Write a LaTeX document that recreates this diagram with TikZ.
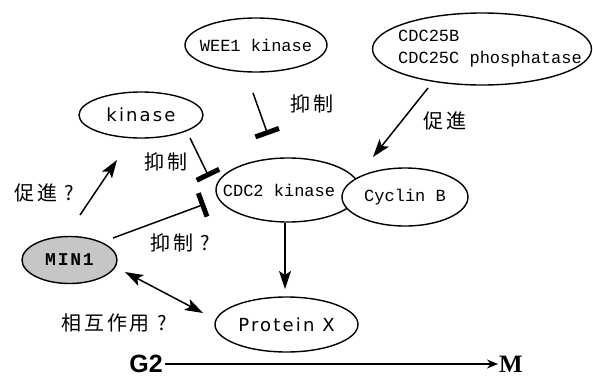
\documentclass[tikz,border=0pt]{standalone}
\usepackage{fontspec}
\setmainfont{DejaVu Sans}
\newfontfamily\monof{Liberation Mono}
\newfontfamily\monobf[LetterSpace=10]{Liberation Mono Bold}
\newfontfamily\cjkf[LetterSpace=14]{Noto Sans CJK JP}
\newfontfamily\sansf[LetterSpace=12]{DejaVu Sans}
\newfontfamily\gfont{Liberation Sans}
\newfontfamily\mfont{Liberation Serif}
\usetikzlibrary{shapes.geometric,arrows.meta}
\begin{document}
\begin{tikzpicture}[x=1pt,y=-1pt,
  ell/.style={ellipse, draw, line width=1.4pt, inner sep=-30pt, fill=white},
  mono/.style={font=\monof\fontsize{17}{22}\selectfont},
  monob/.style={font=\monobf\fontsize{18}{22}\selectfont},
  sans/.style={font=\sansf\fontsize{18}{22}\selectfont},
  cjk/.style={font=\cjkf\fontsize{20}{24}\selectfont, inner sep=0pt},
  con/.style={line width=1.5pt},
  pro/.style={con, -{Stealth[length=18pt,width=12pt,inset=4pt]}},
  biarr/.style={con, {Stealth[length=18pt,width=12pt,inset=4pt]}-{Stealth[length=18pt,width=12pt,inset=4pt]}},
  inh/.style={con, -{Bar[width=25pt,line width=5pt]}}]
\useasboundingbox (0,0) rectangle (593,378);

% nodes
\node[ell, minimum width=142pt, minimum height=54pt, mono] (wee) at (256,45) {WEE1 kinase};
\node[ell, minimum width=219pt, minimum height=72pt] (c25) at (482,49) {};
\node[mono, align=left, inner sep=0pt] (c25t) at (490,49) {CDC25B\\CDC25C phosphatase};
\node[ell, minimum width=124pt, minimum height=46pt, sans] (kin) at (141,115) {kinase};
\node[ell, minimum width=144pt, minimum height=64pt] (cdc2) at (288,190) {};
\node[mono, inner sep=0pt] (cdc2t) at (279,190) {CDC2 kinase};
\node[ell, minimum width=126pt, minimum height=58pt, mono] (cyc) at (405,197) {Cyclin B};
\node[ell, fill=gray!45, minimum width=95pt, minimum height=47pt, monob] (min) at (69.5,260) {MIN1};
\node[ell, minimum width=143pt, minimum height=55pt, sans] (prot) at (286.5,324.5) {Protein X};

% labels
\node[cjk] (l1) at (312,104) {抑制};
\node[cjk] (l2) at (166,162) {抑制};
\node[cjk] (l3) at (445,121) {促進};
\node[cjk] (l4) at (44,193) {促進 ?};
\node[cjk] (l5) at (180,243) {抑制 ?};
\node[cjk] (l6) at (114,323) {相互作用 ?};

% connector end points
\coordinate (w1) at (253,93);   \coordinate (w2) at (268,135);
\coordinate (k1) at (190,138);  \coordinate (k2) at (209,177);
\coordinate (m1) at (113,238);  \coordinate (m2) at (205,204);
\coordinate (p1) at (80,215);   \coordinate (p2) at (117,160);
\coordinate (c1) at (428,88);   \coordinate (c2) at (373,157);
\coordinate (d1) at (285,223);  \coordinate (d2) at (285,289);
\coordinate (x1) at (125,272);  \coordinate (x2) at (203,313);

\draw[inh] (w1) -- (w2);
\draw[inh] (k1) -- (k2);
\draw[inh] (m1) -- (m2);
\draw[pro] (p1) -- (p2);
\draw[pro] (c1) -- (c2);
\draw[pro] (d1) -- (d2);
\draw[biarr] (x1) -- (x2);

% G2 -> M
\node[font=\gfont\bfseries\fontsize{25}{25}\selectfont, inner sep=2pt] (g2) at (146,364) {G2};
\node[font=\mfont\bfseries\fontsize{25}{25}\selectfont, inner sep=1pt] (mm) at (511,364) {M};
\draw[line width=1.5pt, -{Stealth[length=11pt,width=9pt]}] (g2.east) -- (mm.west);
\end{tikzpicture}
\end{document}
